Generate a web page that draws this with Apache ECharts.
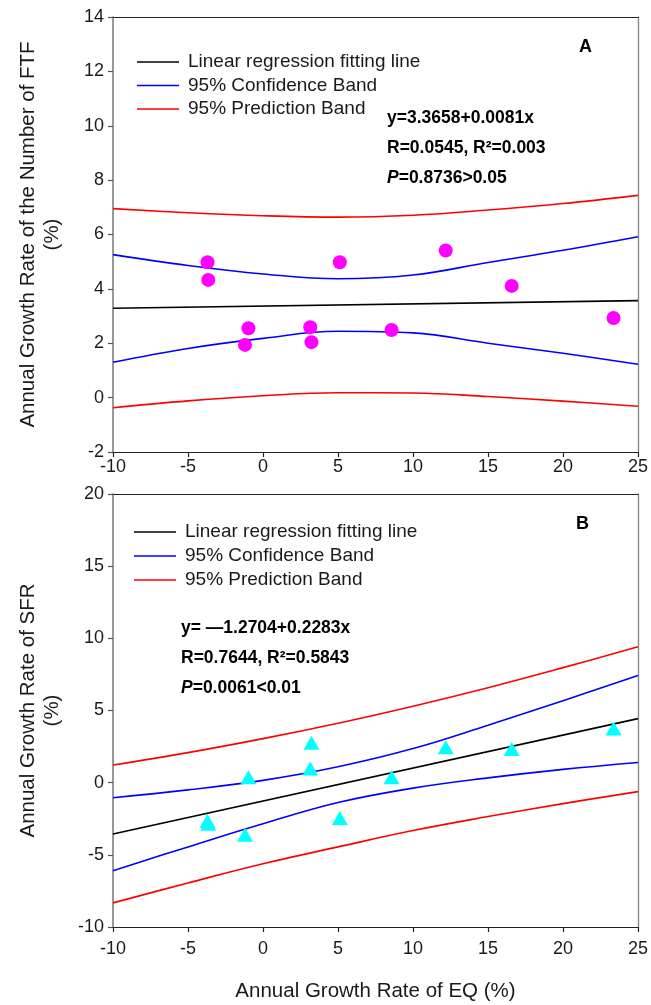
<!DOCTYPE html>
<html>
<head>
<meta charset="utf-8">
<script src="https://cdn.jsdelivr.net/npm/echarts@6/dist/echarts.min.js"></script>
<style>
  html, body { margin: 0; padding: 0; background: #fff; }
  #chart { width: 651px; height: 1005px; }
</style>
</head>
<body>
<div id="chart"></div>
<script>
// ---- data ----
const eqGrowth = [-3.70, -3.65, -1.20, -0.97, 3.15, 3.23, 5.12, 8.57, 12.18, 16.58, 23.37];
const ftfGrowth = [4.98, 4.33, 1.94, 2.55, 2.59, 2.04, 4.98, 2.49, 5.41, 4.11, 2.93];
const sfrGrowth = [-2.65, -2.85, -3.60, 0.37, 0.99, 2.77, -2.45, 0.37, 2.45, 2.33, 3.76];

const fitX = [-10, 25];
const ftfFit = [3.285, 3.568];
const sfrFit = [-3.553, 4.437];

const bandX = [-10, -5, 0, 5, 10, 15, 20, 25];
const ftfPredUpper = [6.95, 6.80, 6.69, 6.64, 6.71, 6.90, 7.14, 7.44];
const ftfConfUpper = [5.26, 4.86, 4.55, 4.37, 4.51, 4.97, 5.42, 5.92];
const ftfConfLower = [1.30, 1.81, 2.18, 2.44, 2.38, 2.00, 1.63, 1.23];
const ftfPredLower = [-0.37, -0.12, 0.07, 0.18, 0.17, 0.04, -0.13, -0.32];

const sfrPredUpper = [1.22, 2.08, 3.05, 4.12, 5.30, 6.58, 7.97, 9.42];
const sfrConfUpper = [-1.04, -0.50, 0.16, 1.10, 2.36, 3.98, 5.68, 7.42];
const sfrConfLower = [-6.10, -4.45, -2.85, -1.38, -0.38, 0.33, 0.92, 1.40];
const sfrPredLower = [-8.33, -6.95, -5.62, -4.45, -3.32, -2.35, -1.45, -0.62];

const legendNames = ['Linear regression fitting line', '95% Confidence Band', '95% Prediction Band'];
const xTitle = 'Annual Growth Rate of EQ (%)';
const yTitleTop = 'Annual Growth Rate of the Number of FTF\n(%)';
const yTitleBottom = 'Annual Growth Rate of SFR\n(%)';

// ---- helpers ----
const FONT = '"Liberation Sans", Arial, Helvetica, sans-serif';
const zip = (xs, ys) => xs.map((x, i) => [x, ys[i]]);

function lineSeries(name, xs, ys, color, xi, yi) {
  return {
    name: name, type: 'line', xAxisIndex: xi, yAxisIndex: yi,
    data: zip(xs, ys), symbol: 'none', showSymbol: false, smooth: 0.4,
    lineStyle: { color: color, width: 1.6 }, itemStyle: { color: color },
    silent: true, z: 3
  };
}

function mainX(gridIndex, labelMargin, showName) {
  return {
    type: 'value', gridIndex: gridIndex, min: -10, max: 25, interval: 5,
    position: 'bottom',
    axisLine: { show: true, onZero: false, lineStyle: { color: '#222', width: 1.2 } },
    axisTick: { show: true, inside: false, length: 5, lineStyle: { color: '#222', width: 1.2 } },
    axisLabel: { margin: labelMargin, fontSize: 18, color: '#1a1a1a', fontFamily: FONT },
    splitLine: { show: false },
    name: showName ? xTitle : '', nameLocation: 'middle', nameGap: 54,
    nameTextStyle: { fontSize: 20.5, color: '#1a1a1a', fontFamily: FONT }
  };
}
function frameX(gridIndex) {
  return {
    type: 'value', gridIndex: gridIndex, min: -10, max: 25, interval: 5, position: 'top',
    axisLine: { show: true, onZero: false, lineStyle: { color: '#222', width: 1.2 } },
    axisTick: { show: false }, axisLabel: { show: false }, splitLine: { show: false }
  };
}
function mainY(gridIndex, min, max, interval, title) {
  return {
    type: 'value', gridIndex: gridIndex, min: min, max: max, interval: interval, position: 'left',
    axisLine: { show: true, onZero: false, lineStyle: { color: '#7f7f7f', width: 1.6 } },
    axisTick: { show: true, inside: false, length: 5, lineStyle: { color: '#555', width: 1.2 } },
    axisLabel: { margin: 9, fontSize: 18, color: '#1a1a1a', fontFamily: FONT },
    splitLine: { show: false },
    name: title, nameLocation: 'middle', nameGap: 49,
    nameTextStyle: { fontSize: 20.5, lineHeight: 24, color: '#1a1a1a', fontFamily: FONT, align: 'center' }
  };
}
function frameY(gridIndex, min, max, interval) {
  return {
    type: 'value', gridIndex: gridIndex, min: min, max: max, interval: interval, position: 'right',
    axisLine: { show: true, onZero: false, lineStyle: { color: '#8a8a8a', width: 1.4 } },
    axisTick: { show: false }, axisLabel: { show: false }, splitLine: { show: false }
  };
}
function legendAt(left, top, gap) {
  return {
    data: legendNames, orient: 'vertical', left: left, top: top, padding: 0,
    icon: 'rect', itemWidth: 42, itemHeight: 1.6, itemGap: gap, selectedMode: false,
    textStyle: { fontSize: 19, lineHeight: 20, color: '#1a1a1a', fontFamily: FONT, padding: [0, 0, 0, 4] }
  };
}

const annoRich = {
  b: { fontSize: 17.5, fontWeight: 'bold', color: '#000', fontFamily: FONT, lineHeight: 30 },
  i: { fontSize: 17.5, fontWeight: 'bold', fontStyle: 'italic', color: '#000', fontFamily: FONT, lineHeight: 30 }
};

const option = {
  backgroundColor: '#ffffff',
  animation: false,
  grid: [
    { left: 113, top: 17, width: 527, height: 435, containLabel: false },
    { left: 113, top: 494, width: 527, height: 433, containLabel: false }
  ],
  xAxis: [mainX(0, 6, false), frameX(0), mainX(1, 13, true), frameX(1)],
  yAxis: [
    mainY(0, -2, 14, 2, yTitleTop), frameY(0, -2, 14, 2),
    mainY(1, -10, 20, 5, yTitleBottom), frameY(1, -10, 20, 5)
  ],
  legend: [legendAt(137, 52, 3.5), legendAt(134, 522, 4)],
  title: [
    { text: 'A', left: 574, top: 33, textStyle: { fontSize: 18, fontWeight: 'bold', color: '#000', fontFamily: FONT } },
    { text: 'B', left: 571, top: 510, textStyle: { fontSize: 18, fontWeight: 'bold', color: '#000', fontFamily: FONT } },
    {
      text: '{b|y=3.3658+0.0081x}\n{b|R=0.0545, R²=0.003}\n{i|P}{b|=0.8736>0.05}',
      left: 382, top: 98, padding: 5,
      textStyle: { rich: annoRich, lineHeight: 30 }
    },
    {
      text: '{b|y= —1.2704+0.2283x}\n{b|R=0.7644, R²=0.5843}\n{i|P}{b|=0.0061<0.01}',
      left: 176, top: 608, padding: 5,
      textStyle: { rich: annoRich, lineHeight: 30 }
    }
  ],
  series: [
    lineSeries(legendNames[0], fitX, ftfFit, '#000000', 0, 0),
    lineSeries(legendNames[1], bandX, ftfConfUpper, '#0000ff', 0, 0),
    lineSeries(legendNames[1], bandX, ftfConfLower, '#0000ff', 0, 0),
    lineSeries(legendNames[2], bandX, ftfPredUpper, '#ff0000', 0, 0),
    lineSeries(legendNames[2], bandX, ftfPredLower, '#ff0000', 0, 0),
    {
      name: 'FTF', type: 'scatter', xAxisIndex: 0, yAxisIndex: 0,
      data: zip(eqGrowth, ftfGrowth), symbol: 'circle', symbolSize: 14,
      itemStyle: { color: '#ff00ff', opacity: 1 }, z: 5
    },
    lineSeries(legendNames[0], fitX, sfrFit, '#000000', 2, 2),
    lineSeries(legendNames[1], bandX, sfrConfUpper, '#0000ff', 2, 2),
    lineSeries(legendNames[1], bandX, sfrConfLower, '#0000ff', 2, 2),
    lineSeries(legendNames[2], bandX, sfrPredUpper, '#ff0000', 2, 2),
    lineSeries(legendNames[2], bandX, sfrPredLower, '#ff0000', 2, 2),
    {
      name: 'SFR', type: 'scatter', xAxisIndex: 2, yAxisIndex: 2,
      data: zip(eqGrowth, sfrGrowth), symbol: 'triangle', symbolSize: [16, 14],
      itemStyle: { color: '#00ffff', opacity: 1 }, z: 5
    }
  ]
};

const chart = echarts.init(document.getElementById('chart'), null, { renderer: 'canvas' });
chart.setOption(option);
</script>
</body>
</html>
